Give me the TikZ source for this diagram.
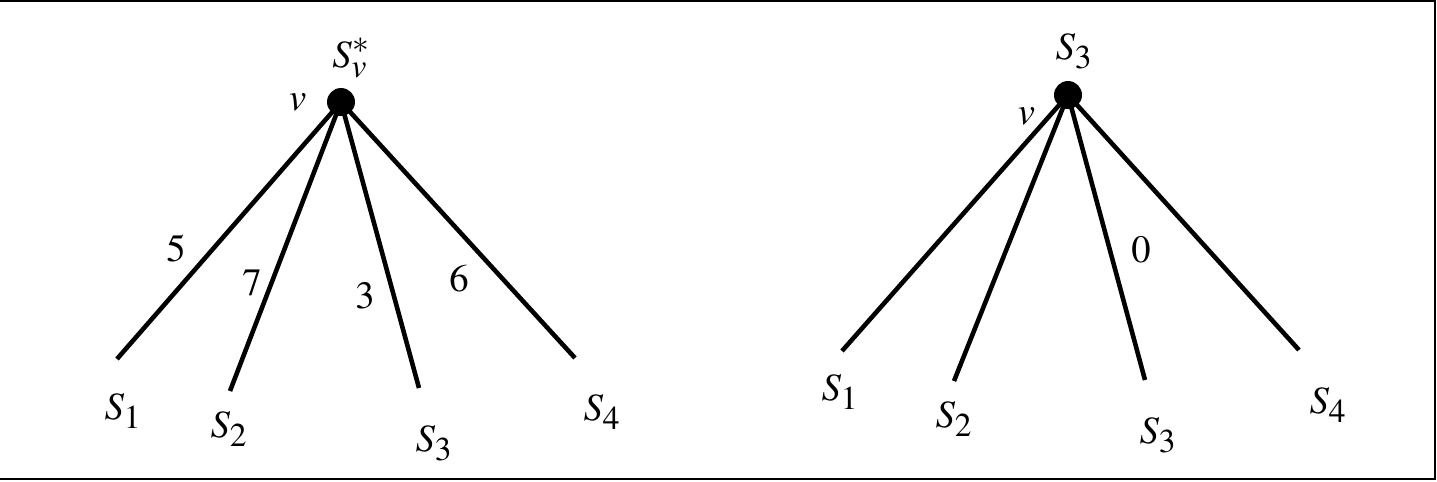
\documentclass[tikz,border=0pt]{standalone}
\usepackage{mathptmx}
\usetikzlibrary{positioning}
\DeclareMathSizes{22}{22}{19}{16}
\tikzset{
  font=\fontsize{22}{26}\selectfont,
  vdot/.style={circle, fill, inner sep=0pt, minimum size=0.56cm},
  twig/.style={line width=2.6pt},
  lab/.style={inner sep=0pt},
  frame/.style={line width=1.4pt}
}

\begin{document}
\begin{tikzpicture}[x=0.02cm, y=-0.02cm]
    \useasboundingbox (0,0) rectangle (1437,481);
    \draw[frame] (0,1) -- (1435,1) -- (1435,479) -- (0,479);

    % left tree
    \coordinate (a1) at (117,359);
    \coordinate (a2) at (230,391);
    \coordinate (a3) at (419,388);
    \coordinate (a4) at (575,358);
    \node[vdot] (va) at (341,102) {};
    \draw[twig] (va.center) -- (a1);
    \draw[twig] (va.center) -- (a2);
    \draw[twig] (va.center) -- (a3);
    \draw[twig] (va.center) -- (a4);
    \node[lab, left=0.4cm of va] (valab) {$v$};
    \node[lab] (vatop) at (351,58) {$S_v^*$};
    \node[lab] (sa1) at (123,411) {$S_1$};
    \node[lab] (sa2) at (229,429) {$S_2$};
    \node[lab] (sa3) at (434,443) {$S_3$};
    \node[lab] (sa4) at (602,412) {$S_4$};
    \node[lab] (wa1) at (176,249) {$5$};
    \node[lab] (wa2) at (252,283) {$7$};
    \node[lab] (wa3) at (365,296) {$3$};
    \node[lab] (wa4) at (459,279) {$6$};

    % right tree
    \coordinate (b1) at (842,351);
    \coordinate (b2) at (954,381);
    \coordinate (b3) at (1145,380);
    \coordinate (b4) at (1299,350);
    \node[vdot] (vb) at (1068,95) {};
    \draw[twig] (vb.center) -- (b1);
    \draw[twig] (vb.center) -- (b2);
    \draw[twig] (vb.center) -- (b3);
    \draw[twig] (vb.center) -- (b4);
    \node[lab, below left=0.05cm and 0.45cm of vb] (vblab) {$v$};
    \node[lab] (vbtop) at (1074,51) {$S_3$};
    \node[lab] (sb1) at (840,392) {$S_1$};
    \node[lab] (sb2) at (954,419) {$S_2$};
    \node[lab] (sb3) at (1158,435) {$S_3$};
    \node[lab] (sb4) at (1328,405) {$S_4$};
    \node[lab] (wb3) at (1141,250) {$0$};
\end{tikzpicture}
\end{document}
